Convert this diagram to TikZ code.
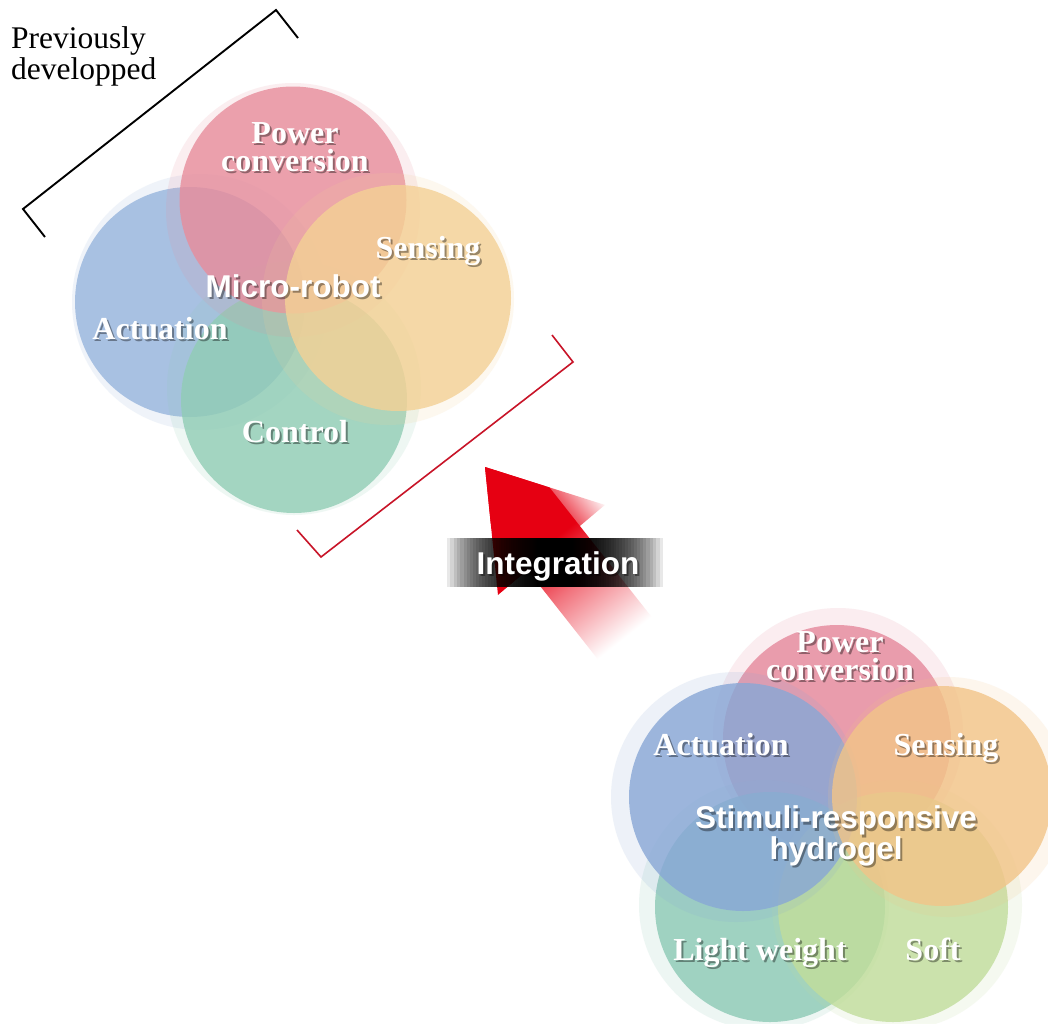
\documentclass[tikz,border=0pt]{standalone}
\usepackage{fontspec}
\setmainfont{Liberation Serif}
\newfontfamily\arialf{Liberation Sans}
\usetikzlibrary{calc}

\definecolor{arrred}{RGB}{230,0,18}
\definecolor{brkred}{RGB}{200,20,40}
% top cluster
\definecolor{tpink}{RGB}{231,141,156}
\definecolor{tblue}{RGB}{151,181,221}
\definecolor{torange}{RGB}{244,209,149}
\definecolor{tgreen}{RGB}{145,205,181}
% bottom cluster
\definecolor{bpink}{RGB}{229,136,156}
\definecolor{bblue}{RGB}{136,167,214}
\definecolor{borange}{RGB}{242,196,136}
\definecolor{bteal}{RGB}{140,201,181}
\definecolor{blgreen}{RGB}{193,221,155}

\pgfdeclareverticalshading{headfade}{100bp}{color(0bp)=(arrred); color(25bp)=(arrred); color(57bp)=(arrred); color(75bp)=(arrred!5!white); color(100bp)=(arrred!5!white)}
\pgfdeclarehorizontalshading{shaftfade}{100bp}{color(0bp)=(arrred); color(25bp)=(arrred); color(47bp)=(arrred); color(58bp)=(arrred!55!white); color(74bp)=(white); color(100bp)=(white)}

\tikzset{
  main/.style={circle, inner sep=0pt, minimum size=#1, fill opacity=0.8},
  ghost/.style={circle, inner sep=0pt, minimum size=#1, fill opacity=0.15},
  serifl/.style={font=\bfseries\fontsize{32}{28}\selectfont, align=center, inner sep=0pt},
  sansl/.style={font=\arialf\bfseries\fontsize{31.5}{26.5}\selectfont, align=center, inner sep=0pt},
  oneline/.style={text height=22.5pt, text depth=6.5pt},
  bracket/.style={line width=1.9pt, line join=miter},
}

\newcommand\shlabel[4]{%
  \coordinate (#1-c) at (#3);
  \node[#2, text=black, text opacity=0.38] at ([shift={(2,2.5)}]#1-c) {#4};
  \node[#2, text=white] (#1) at (#1-c) {#4};}

\begin{document}
\begin{tikzpicture}[x=1pt, y=-1pt]
\useasboundingbox (0,0) rectangle (1048,1023);
\fill[white] (0,0) rectangle (1048,1023);

% ---------- top cluster (Micro-robot) ----------
\node[ghost=256pt, fill=tblue] (tbg) at (200,302) {};
\node[main=230pt, fill=tblue] (tb) at (190,302) {};
\node[ghost=254pt, fill=tgreen] (tgg) at (294,388) {};
\node[main=226pt, fill=tgreen] (tg) at (294,400) {};
\node[ghost=254pt, fill=tpink] (tpg) at (293,210) {};
\node[main=227pt, fill=tpink] (tp) at (293,200) {};
\node[ghost=252pt, fill=torange] (tog) at (388,299) {};
\node[main=226pt, fill=torange] (to) at (398,298) {};

\shlabel{tpow}{serifl}{295,147}{Power\\conversion}
\shlabel{tsen}{serifl, oneline}{428,250}{Sensing}
\shlabel{tact}{serifl, oneline}{160,331}{Actuation}
\shlabel{tcon}{serifl, oneline}{295,434}{Control}
\shlabel{tmr}{sansl, oneline}{293,289}{Micro-robot}

% previously developped
\node[font=\fontsize{31.5}{31}\selectfont, align=left, anchor=west, inner sep=0pt] (prev) at (11,56) {Previously\\developped};

% black bracket
\coordinate (kb1) at (298,38);
\coordinate (kb2) at (276,10);
\coordinate (kb3) at (23,209);
\coordinate (kb4) at (45,237);
\draw[bracket, black] (kb1) -- (kb2) -- (kb3) -- (kb4);

% red bracket
\coordinate (rb1) at (552,335);
\coordinate (rb2) at (573,362);
\coordinate (rb3) at (321,557);
\coordinate (rb4) at (297,530);
\draw[bracket, brkred, line width=1.6pt] (rb1) -- (rb2) -- (rb3) -- (rb4);

% ---------- red arrow ----------
\coordinate (tip) at (485,467);
\begin{scope}[transform canvas={shift={(485,467)}, rotate=-51.75}]
  \shade[shading=headfade] (0,0) -- (104,-70.7) -- (108.5,69) -- cycle;
  \shade[shading=shaftfade] (0,0) -- (56,-38) -- (225,-38) -- (225,30.4) -- (47.8,30.4) -- cycle;
\end{scope}

% integration band
\foreach \i in {0,...,39}{
  \pgfmathsetmacro\w{18+90*(\i/39)^1.5}
  \fill[black, opacity=0.09] ({555-\w},538) rectangle ({555+\w},587);
}
\shlabel{integ}{sansl, oneline}{558,566}{Integration}

% ---------- bottom cluster (hydrogel) ----------
\node[ghost=250pt, fill=bpink] (bpg) at (838,733) {};
\node[main=228pt, fill=bpink] (bp) at (837,739) {};
\node[ghost=250pt, fill=bteal] (btg) at (764,905) {};
\node[main=230pt, fill=bteal] (bt) at (770,907) {};
\node[ghost=250pt, fill=blgreen] (blg) at (897,905) {};
\node[main=230pt, fill=blgreen] (bl) at (893,907) {};
\node[ghost=250pt, fill=bblue] (bbg) at (736,797) {};
\node[main=228pt, fill=bblue] (bb) at (743,797) {};
\node[ghost=240pt, fill=borange] (bog) at (948,797) {};
\node[main=220pt, fill=borange] (bo) at (942,796) {};

\shlabel{bpow}{serifl}{840,656}{Power\\conversion}
\shlabel{bact}{serifl, oneline}{721,747}{Actuation}
\shlabel{bsen}{serifl, oneline}{946,747}{Sensing}
\shlabel{bsr}{sansl}{836,836}{Stimuli-responsive\\hydrogel}
\shlabel{blw}{serifl, oneline}{760,952}{Light weight}
\shlabel{bsoft}{serifl, oneline}{933,952}{Soft}
\end{tikzpicture}
\end{document}
